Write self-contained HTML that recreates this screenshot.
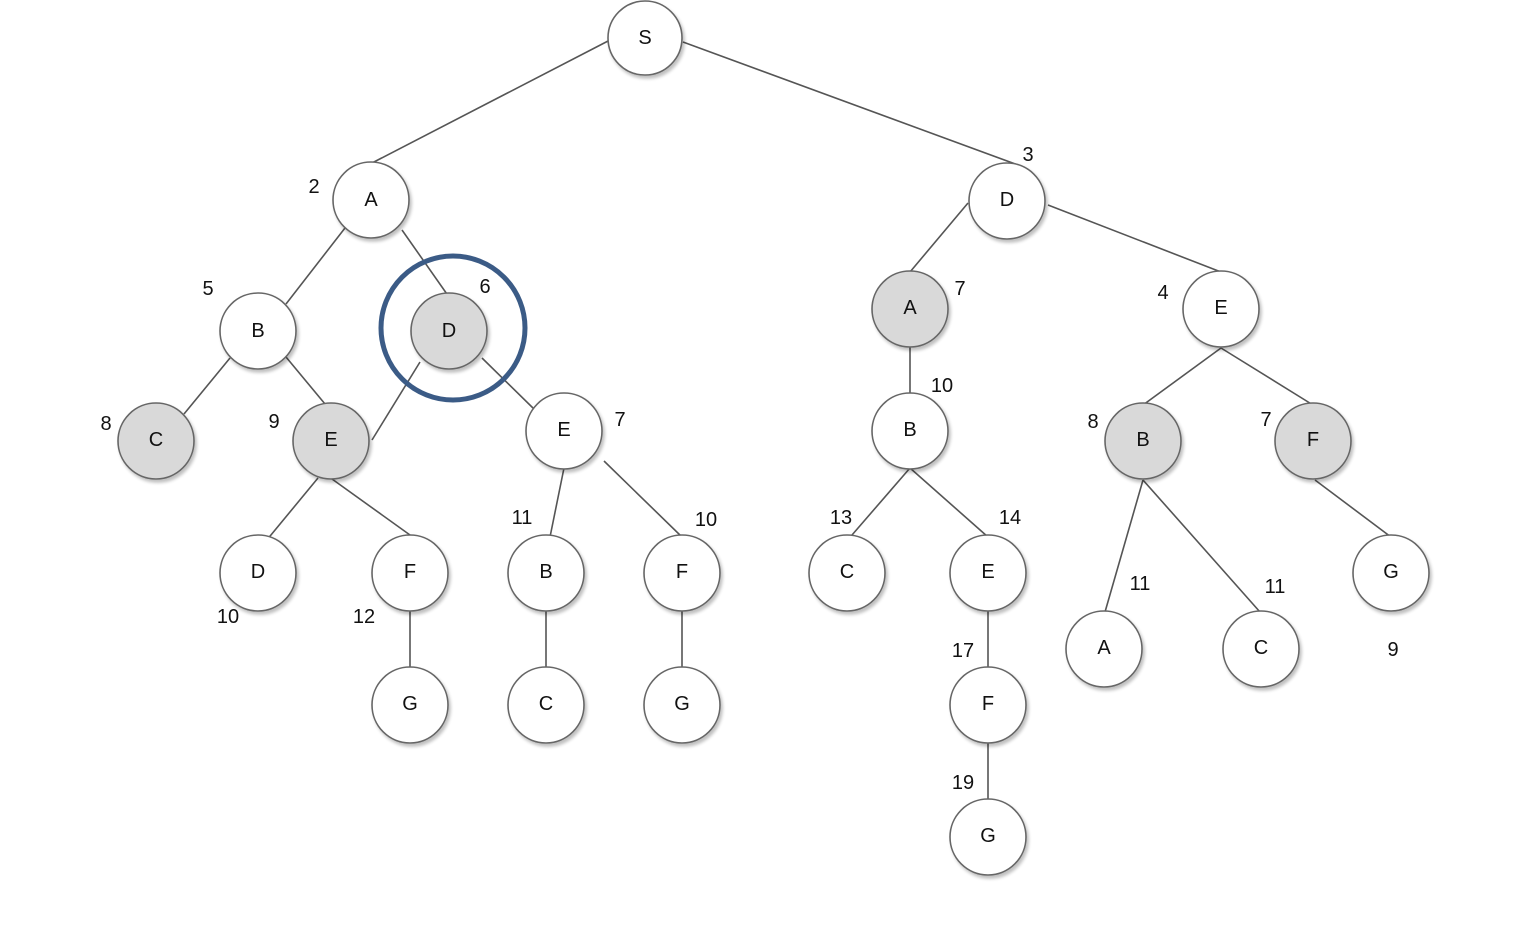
<!DOCTYPE html>
<html><head><meta charset="utf-8"><style>
html,body{margin:0;padding:0;background:#fff;}
svg{display:block;}
text{font-family:"Liberation Sans",sans-serif;fill:#111;}
</style></head><body>
<svg width="1540" height="926" viewBox="0 0 1540 926" xmlns="http://www.w3.org/2000/svg">
<defs>
<filter id="sh" x="-20%" y="-20%" width="150%" height="150%">
<feGaussianBlur in="SourceAlpha" stdDeviation="1.5"/>
<feOffset dx="2" dy="3" result="o"/>
<feComponentTransfer><feFuncA type="linear" slope="0.25"/></feComponentTransfer>
<feMerge><feMergeNode/><feMergeNode in="SourceGraphic"/></feMerge>
</filter>
</defs>
<g stroke="#555" stroke-width="1.6" fill="none">
<line x1="610" y1="40" x2="372" y2="163"/>
<line x1="683" y1="42" x2="1018" y2="165"/>
<line x1="345" y1="228" x2="286" y2="304"/>
<line x1="402" y1="230" x2="449" y2="297"/>
<line x1="230" y1="358" x2="184" y2="414"/>
<line x1="286" y1="357" x2="330" y2="410"/>
<line x1="420" y1="362" x2="372" y2="440"/>
<line x1="482" y1="358" x2="535" y2="410"/>
<line x1="318" y1="478" x2="266" y2="541"/>
<line x1="332" y1="479" x2="410" y2="535"/>
<line x1="564" y1="468" x2="550" y2="537"/>
<line x1="604" y1="461" x2="682" y2="537"/>
<line x1="410" y1="610" x2="410" y2="667"/>
<line x1="546" y1="610" x2="546" y2="667"/>
<line x1="682" y1="610" x2="682" y2="667"/>
<line x1="968" y1="203" x2="910" y2="272"/>
<line x1="1048" y1="205" x2="1221" y2="272"/>
<line x1="910" y1="345" x2="910" y2="393"/>
<line x1="910" y1="468" x2="852" y2="535"/>
<line x1="910" y1="468" x2="988" y2="537"/>
<line x1="988" y1="610" x2="988" y2="667"/>
<line x1="988" y1="742" x2="988" y2="799"/>
<line x1="1221" y1="348" x2="1143" y2="405"/>
<line x1="1221" y1="348" x2="1313" y2="405"/>
<line x1="1143" y1="480" x2="1105" y2="612"/>
<line x1="1143" y1="480" x2="1260" y2="612"/>
<line x1="1315" y1="480" x2="1391" y2="537"/>
</g>
<g stroke="#666" stroke-width="1.6" filter="url(#sh)">
<circle cx="645" cy="38" r="37" fill="#fff"/>
<circle cx="371" cy="200" r="38" fill="#fff"/>
<circle cx="1007" cy="201" r="38" fill="#fff"/>
<circle cx="258" cy="331" r="38" fill="#fff"/>
<circle cx="449" cy="331" r="38" fill="#d9d9d9"/>
<circle cx="910" cy="309" r="38" fill="#d9d9d9"/>
<circle cx="1221" cy="309" r="38" fill="#fff"/>
<circle cx="156" cy="441" r="38" fill="#d9d9d9"/>
<circle cx="331" cy="441" r="38" fill="#d9d9d9"/>
<circle cx="564" cy="431" r="38" fill="#fff"/>
<circle cx="910" cy="431" r="38" fill="#fff"/>
<circle cx="1143" cy="441" r="38" fill="#d9d9d9"/>
<circle cx="1313" cy="441" r="38" fill="#d9d9d9"/>
<circle cx="258" cy="573" r="38" fill="#fff"/>
<circle cx="410" cy="573" r="38" fill="#fff"/>
<circle cx="546" cy="573" r="38" fill="#fff"/>
<circle cx="682" cy="573" r="38" fill="#fff"/>
<circle cx="847" cy="573" r="38" fill="#fff"/>
<circle cx="988" cy="573" r="38" fill="#fff"/>
<circle cx="1391" cy="573" r="38" fill="#fff"/>
<circle cx="1104" cy="649" r="38" fill="#fff"/>
<circle cx="1261" cy="649" r="38" fill="#fff"/>
<circle cx="410" cy="705" r="38" fill="#fff"/>
<circle cx="546" cy="705" r="38" fill="#fff"/>
<circle cx="682" cy="705" r="38" fill="#fff"/>
<circle cx="988" cy="705" r="38" fill="#fff"/>
<circle cx="988" cy="837" r="38" fill="#fff"/>
</g>
<circle cx="453" cy="328" r="72" fill="none" stroke="#3b5b86" stroke-width="5"/>
<g font-size="20" text-anchor="middle" dominant-baseline="central">
<text x="645" y="38">S</text>
<text x="371" y="200">A</text>
<text x="1007" y="200">D</text>
<text x="258" y="331">B</text>
<text x="449" y="331">D</text>
<text x="910" y="308">A</text>
<text x="1221" y="308">E</text>
<text x="156" y="440">C</text>
<text x="331" y="440">E</text>
<text x="564" y="430">E</text>
<text x="910" y="430">B</text>
<text x="1143" y="440">B</text>
<text x="1313" y="440">F</text>
<text x="258" y="572">D</text>
<text x="410" y="572">F</text>
<text x="546" y="572">B</text>
<text x="682" y="572">F</text>
<text x="847" y="572">C</text>
<text x="988" y="572">E</text>
<text x="1391" y="572">G</text>
<text x="1104" y="648">A</text>
<text x="1261" y="648">C</text>
<text x="410" y="704">G</text>
<text x="546" y="704">C</text>
<text x="682" y="704">G</text>
<text x="988" y="704">F</text>
<text x="988" y="836">G</text>
</g>
<g font-size="20" text-anchor="middle" dominant-baseline="central">
<text x="314" y="187">2</text>
<text x="1028" y="155">3</text>
<text x="208" y="289">5</text>
<text x="485" y="287">6</text>
<text x="960" y="289">7</text>
<text x="1163" y="293">4</text>
<text x="106" y="424">8</text>
<text x="274" y="422">9</text>
<text x="620" y="420">7</text>
<text x="942" y="386">10</text>
<text x="1093" y="422">8</text>
<text x="1266" y="420">7</text>
<text x="522" y="518">11</text>
<text x="706" y="520">10</text>
<text x="841" y="518">13</text>
<text x="1010" y="518">14</text>
<text x="228" y="617">10</text>
<text x="364" y="617">12</text>
<text x="1140" y="584">11</text>
<text x="1275" y="587">11</text>
<text x="1393" y="650">9</text>
<text x="963" y="651">17</text>
<text x="963" y="783">19</text>
</g>
</svg>
</body></html>
